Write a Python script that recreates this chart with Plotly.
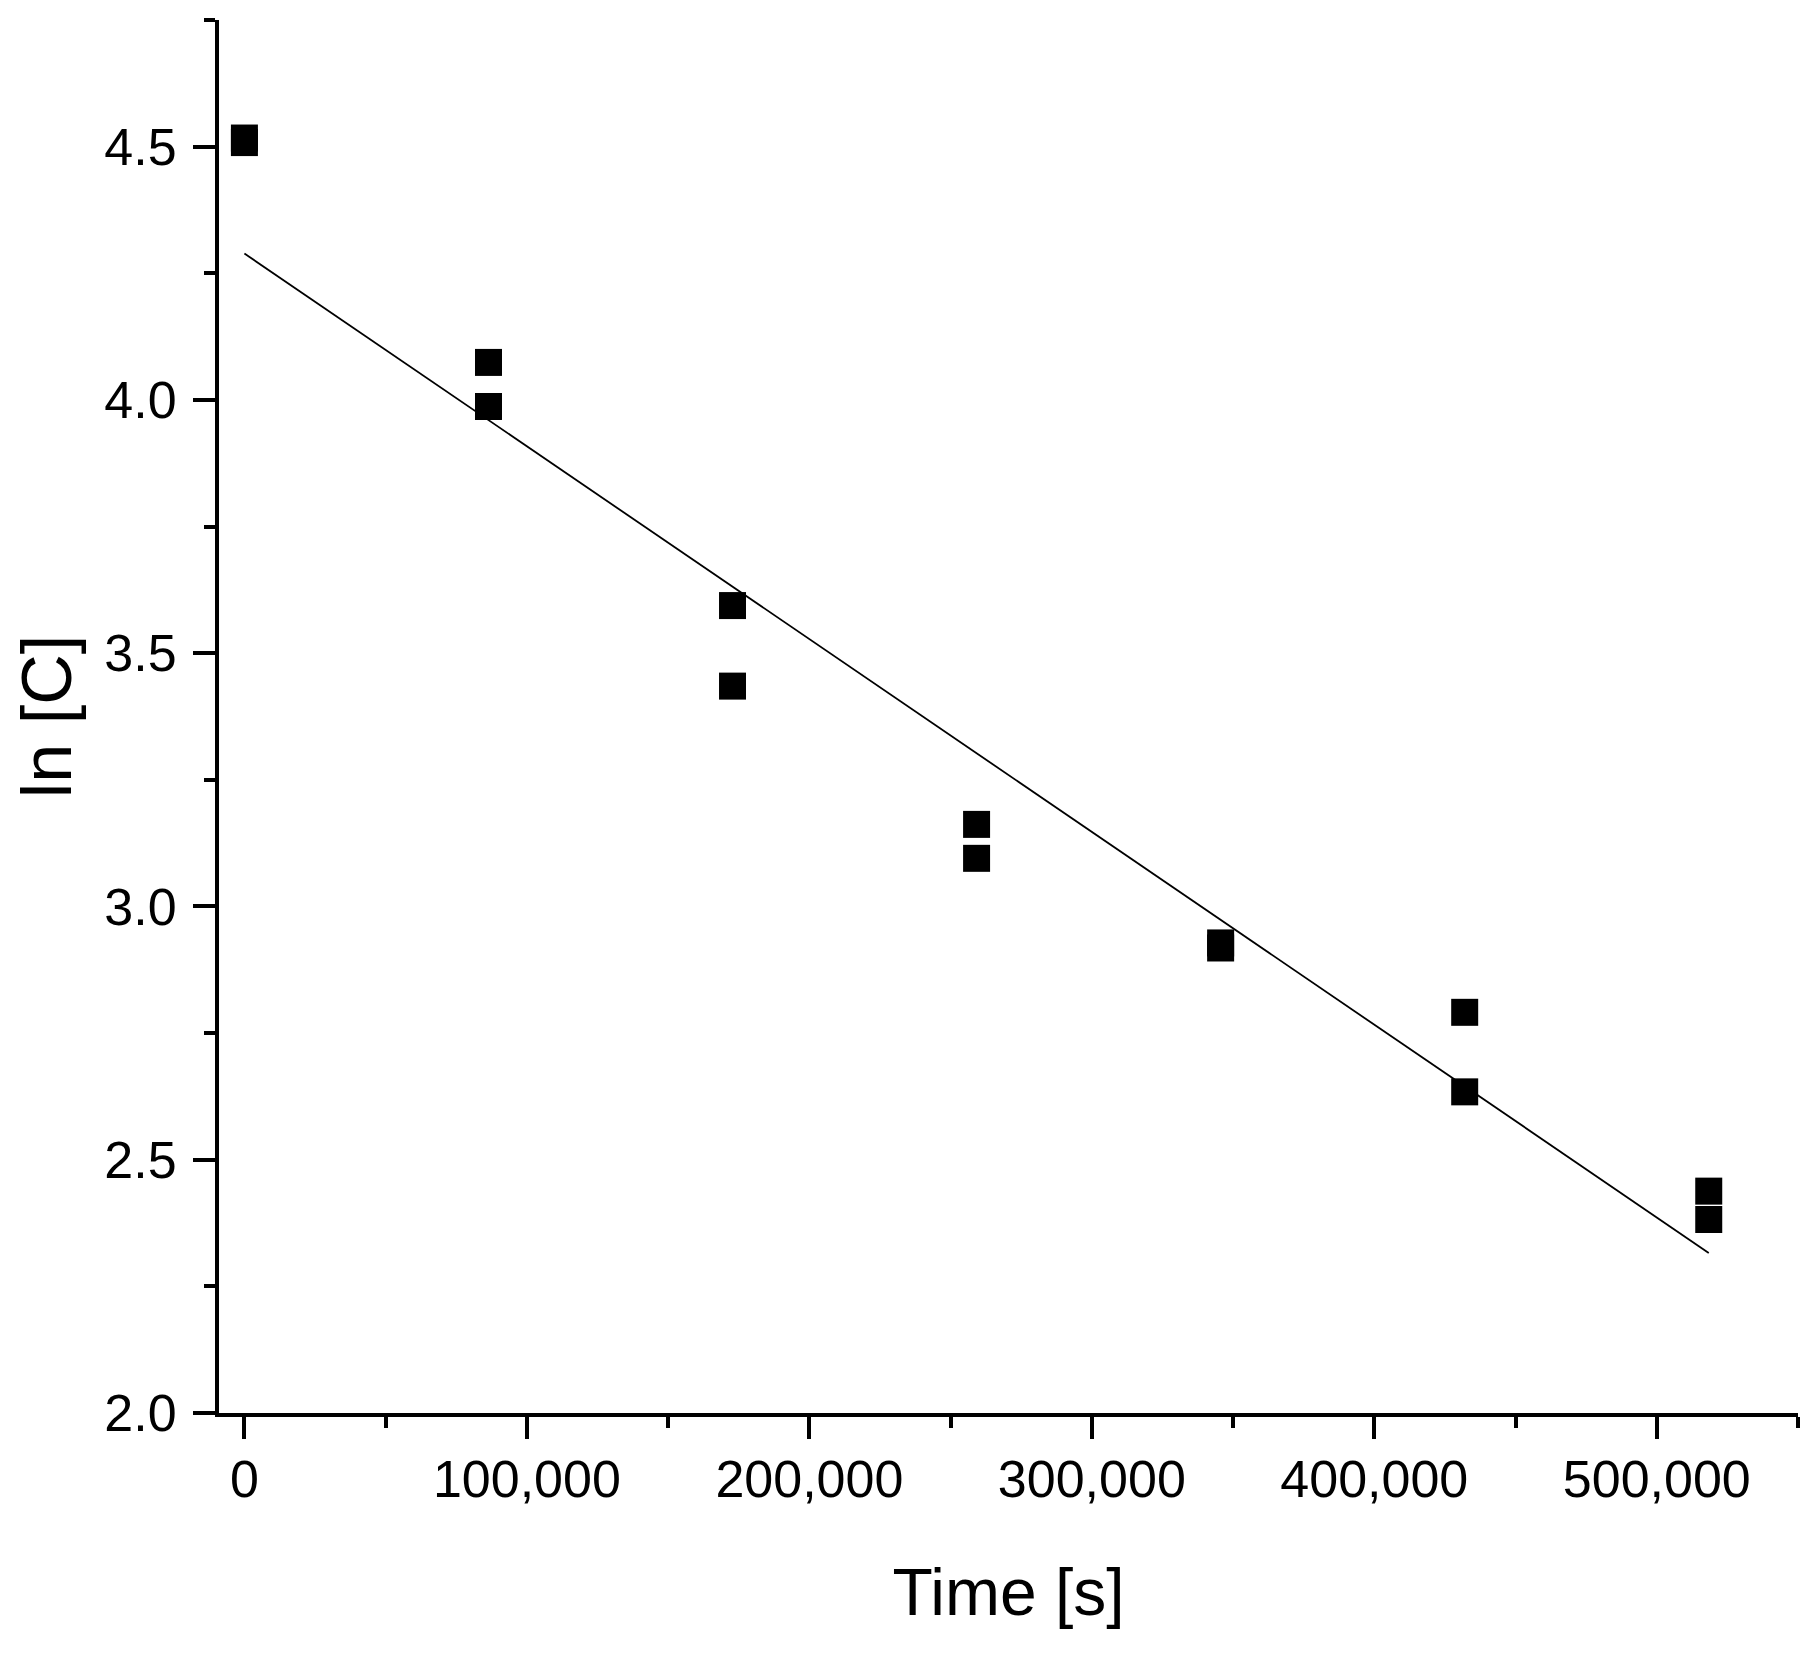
import plotly.graph_objects as go

# measured points (duplicates at each time)
time_s = [0, 0, 86400, 86400, 172800, 172800, 259200, 259200,
          345600, 345600, 432000, 432000, 518400, 518400]
ln_c = [4.517, 4.508, 4.074, 3.987, 3.594, 3.435, 3.162, 3.095,
        2.928, 2.918, 2.791, 2.634, 2.438, 2.382]

# linear fit line
fit_time = [0, 518400]
fit_ln_c = [4.289, 2.316]

font_family = "Arial, Liberation Sans, sans-serif"

fig = go.Figure()
fig.add_trace(go.Scatter(x=fit_time, y=fit_ln_c, mode="lines",
                         line=dict(color="black", width=1.8)))
fig.add_trace(go.Scatter(x=time_s, y=ln_c, mode="markers",
                         marker=dict(symbol="square", size=27, color="black",
                                     line=dict(width=0))))

axis_common = dict(
    showgrid=False, zeroline=False,
    showline=True, linecolor="black", linewidth=4,
    ticks="outside", ticklen=22, tickwidth=4, tickcolor="black",
    tickfont=dict(size=52, color="black", family=font_family),
)

fig.update_xaxes(
    range=[-9000, 550000], tickvals=[0, 100000, 200000, 300000, 400000, 500000],
    tickformat=",d", ticklabelstandoff=-4,
    minor=dict(ticks="outside", ticklen=11, tickwidth=4, tickcolor="black", dtick=50000, tick0=0),
    title=dict(text="Time [s]", font=dict(size=66, color="black", family=font_family), standoff=62),
    **axis_common,
)
fig.update_yaxes(
    range=[2.0, 4.75], dtick=0.5, tick0=2.0, tickformat=".1f", ticklabelstandoff=6,
    minor=dict(ticks="outside", ticklen=11, tickwidth=4, tickcolor="black", dtick=0.25, tick0=2.0),
    title=dict(text="ln [C]", font=dict(size=70, color="black", family=font_family), standoff=37),
    **axis_common,
)

fig.update_layout(
    width=1800, height=1640,
    margin=dict(l=209, r=10, t=12, b=235),
    plot_bgcolor="white", paper_bgcolor="white",
    showlegend=False,
    font_family=font_family,
)

fig.write_html("out.html")
